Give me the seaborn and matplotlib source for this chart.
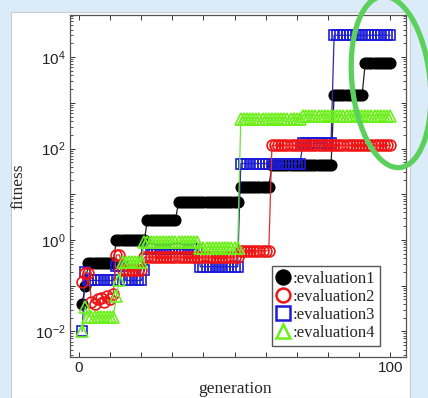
import numpy as np
import pandas as pd
import matplotlib
matplotlib.use("Agg")
import matplotlib.pyplot as plt
import matplotlib.ticker as mticker
from matplotlib.patches import Rectangle, Ellipse
from matplotlib.lines import Line2D
import seaborn as sns

# ---------------- data (step levels and how many generations each lasts) ----
generations = np.arange(1, 101)

eval1_levels = [0.04, 0.1, 0.32, 1.0, 2.8, 6.7, 14.5, 43, 1500, 7400]
eval1_runs = [1, 1, 9, 10, 10, 20, 10, 20, 10, 9]

eval2_levels = [0.12, 0.19, 0.045, 0.04, 0.05, 0.055, 0.045, 0.06, 0.05, 0.065,
                0.47, 0.22, 0.42, 0.58, 117]
eval2_runs = [1, 2, 1, 1, 1, 1, 1, 1, 1, 1, 2, 7, 31, 10, 39]

eval3_levels = [0.01, 0.2, 0.13, 0.27, 0.13, 0.22, 0.62, 0.26, 47, 130, 30000]
eval3_runs = [1, 1, 9, 3, 6, 1, 17, 13, 20, 10, 19]

eval4_levels = [0.01, 0.035, 0.021, 0.058, 0.13, 0.33, 0.9, 0.68, 450, 520]
eval4_runs = [1, 1, 9, 1, 1, 7, 18, 13, 20, 29]

labels = [":evaluation1", ":evaluation2", ":evaluation3", ":evaluation4"]
x_tick_labels = {0: "0", 100: "100"}

series = {
    labels[0]: np.repeat(eval1_levels, eval1_runs),
    labels[1]: np.repeat(eval2_levels, eval2_runs),
    labels[2]: np.repeat(eval3_levels, eval3_runs),
    labels[3]: np.repeat(eval4_levels, eval4_runs),
}
df = pd.DataFrame({"generation": np.tile(generations, 4),
                   "fitness": np.concatenate([series[l] for l in labels]),
                   "series": np.repeat(labels, len(generations))})

# ---------------- style ------------------------------------------------------
sns.set_style("ticks")
plt.rcParams["font.family"] = ["Liberation Sans", "DejaVu Sans"]
plt.rcParams["mathtext.fontset"] = "custom"
plt.rcParams["mathtext.rm"] = "Liberation Sans"
plt.rcParams["mathtext.it"] = "Liberation Sans:italic"
plt.rcParams["mathtext.bf"] = "Liberation Sans:bold"

W, H = 428, 398
fig = plt.figure(figsize=(W / 100, H / 100), dpi=100)
fig.patch.set_facecolor("#dcebf8")
fig.add_artist(Rectangle((11 / W, 0), (410 - 11) / W, (H - 12) / H,
                         transform=fig.transFigure, facecolor="white",
                         edgecolor="#c8ccd0", linewidth=0.8, zorder=-10))

ax = fig.add_axes([70 / W, 1 - 357 / H, (406 - 70) / W, (357 - 15) / H])
ax.set_facecolor("white")

colors = {labels[0]: "#000000", labels[1]: "#f01414",
          labels[2]: "#1c1cd8", labels[3]: "#6cf01a"}
line_colors = {labels[0]: "#222222", labels[1]: "#e03030",
               labels[2]: "#2a2aa8", labels[3]: "#70e040"}
markers = {labels[0]: "o", labels[1]: "o", labels[2]: "s", labels[3]: "^"}
msize = {labels[0]: 7.5, labels[1]: 7.8, labels[2]: 7.5, labels[3]: 8}
face = {labels[0]: "#000000", labels[1]: "none", labels[2]: "none", labels[3]: "none"}

draw_order = [labels[0], labels[2], labels[1], labels[3]]
for z, lab in enumerate(draw_order):
    sub = df[df["series"] == lab]
    sns.lineplot(data=sub, x="generation", y="fitness", ax=ax,
                 color=line_colors[lab], linewidth=0.9, marker=markers[lab],
                 markersize=msize[lab], markerfacecolor=face[lab],
                 markeredgecolor=colors[lab], markeredgewidth=1.2,
                 legend=False, zorder=2 + z)

ax.set_yscale("log")
ax.set_xlim(-2.9, 105.1)
ax.set_ylim(10 ** -2.56, 10 ** 4.92)

ax.xaxis.set_major_locator(mticker.FixedLocator(np.arange(0, 101, 10)))
ax.xaxis.set_major_formatter(mticker.FuncFormatter(
    lambda v, p: x_tick_labels.get(int(round(v)), "")))
ax.yaxis.set_major_locator(mticker.LogLocator(base=10, numticks=20))
ax.yaxis.set_minor_locator(mticker.LogLocator(base=10, subs=np.arange(2, 10), numticks=20))
ax.yaxis.set_minor_formatter(mticker.NullFormatter())

def yfmt(v, p):
    e = int(round(np.log10(v)))
    return f"$10^{{{e}}}$" if e % 2 == 0 else ""
ax.yaxis.set_major_formatter(mticker.FuncFormatter(yfmt))

ax.tick_params(which="both", direction="in", top=True, right=True,
               colors="#333333", labelcolor="#222222", labelsize=11)
ax.tick_params(which="major", length=3.5, width=0.7, pad=3)
ax.tick_params(which="minor", length=2, width=0.6)
for s in ax.spines.values():
    s.set_color("#555555")
    s.set_linewidth(0.9)

ax.set_xlabel("generation", family=["Liberation Serif"], fontsize=12.5)
ax.set_ylabel("fitness", family=["Liberation Serif"], fontsize=12.5)
ax.xaxis.set_label_coords(0.49, -0.071)
ax.yaxis.set_label_coords(-0.13, 0.5)

handles = [Line2D([], [], linestyle="none", marker=markers[l], markersize=10,
                  markerfacecolor=face[l], markeredgecolor=colors[l],
                  markeredgewidth=1.8) for l in labels]
leg = ax.legend(handles, labels, loc="lower right", bbox_to_anchor=(0.923, 0.032),
                borderaxespad=0, frameon=True, fancybox=False, framealpha=1,
                edgecolor="#555555", handlelength=0.8, handletextpad=0.15,
                labelspacing=0.12, borderpad=0.3,
                prop={"family": "Liberation Serif", "size": 12})
leg.get_frame().set_linewidth(1.0)

fig.add_artist(Ellipse((391, H - 82), 78, 172, angle=6, transform=None,
                       fill=False, edgecolor="#5cd05c", linewidth=3.8,
                       clip_on=False, zorder=20))

fig.savefig("out.png", dpi=100, facecolor=fig.get_facecolor())
